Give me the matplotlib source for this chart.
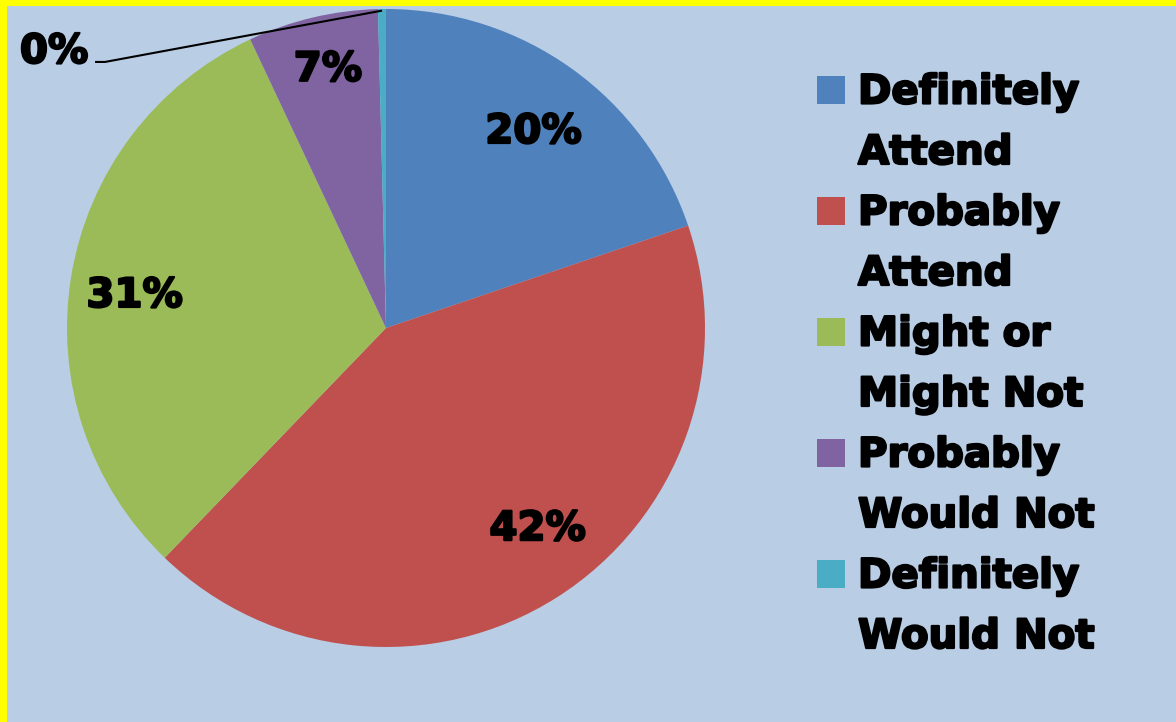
import numpy as np
import matplotlib
matplotlib.use("Agg")
import matplotlib.pyplot as plt
from matplotlib.patches import Rectangle
import matplotlib.patheffects as pe

# Survey responses (percent of respondents)
categories = ["Definitely Attend", "Probably Attend", "Might or Might Not",
              "Probably Would Not", "Definitely Would Not"]
legend_lines = [["Definitely", "Attend"], ["Probably", "Attend"],
                ["Might or", "Might Not"], ["Probably", "Would Not"],
                ["Definitely", "Would Not"]]
shares = [19.8, 42.4, 30.8, 6.6, 0.4]
colors = ["#4F81BD", "#C0504D", "#9BBB59", "#8064A2", "#4BACC6"]

BG = "#B9CDE5"
FONT = "DejaVu Sans"
FS = 29
HEAVY = [pe.withStroke(linewidth=1.6, foreground="black")]

W, H = 1176, 722
fig = plt.figure(figsize=(W / 100, H / 100), dpi=100, facecolor=BG)

# yellow frame along the top and left edges
fig.patches.append(Rectangle((0, 1 - 6 / H), 1, 6 / H, transform=fig.transFigure,
                             facecolor="#FFFF00", edgecolor="none", zorder=0))
fig.patches.append(Rectangle((0, 0), 7 / W, 1, transform=fig.transFigure,
                             facecolor="#FFFF00", edgecolor="none", zorder=0))

cx, cy, R = 386, 328, 319
ax = fig.add_axes([(cx - R) / W, (H - cy - R) / H, 2 * R / W, 2 * R / H])
ax.set_facecolor(BG)

wedges, texts, autotexts = ax.pie(
    shares, colors=colors, startangle=90, counterclock=False, radius=1,
    autopct="%.0f%%", pctdistance=0.79,
    wedgeprops=dict(linewidth=0),
    textprops=dict(fontsize=FS, fontweight="bold", family=FONT, color="black"),
)
ax.set_xlim(-1, 1)
ax.set_ylim(-1, 1)
ax.axis("off")

# percentage label anchors (centre x, baseline y) in pie units
label_pos = [(0.462, 0.580), (0.475, -0.665), (-0.788, 0.066),
             (-0.182, 0.775), (-0.934, 0.831)]
for t, (lx, ly) in zip(autotexts, label_pos):
    t.set_position((lx, ly))
    t.set_va("baseline")
    t.set_clip_on(False)
    t.set_path_effects(HEAVY)

# the tiny last slice gets its label outside with a leader line
small = wedges[-1]
mid = np.deg2rad((small.theta1 + small.theta2) / 2)
edge = (np.cos(mid) * 0.995, np.sin(mid) * 0.995)
elbow = (-0.881, 0.834)
tail = (-0.912, 0.834)
ax.plot([edge[0], elbow[0], tail[0]], [edge[1], elbow[1], tail[1]],
        color="black", lw=1.5, solid_capstyle="butt", clip_on=False, zorder=5)
autotexts[-1].set_ha("right")

# legend: colour squares with two-line labels
base0, step = 103.5, 60.5
for i, (lines, col) in enumerate(zip(legend_lines, colors)):
    b1 = base0 + step * 2 * i
    fig.patches.append(Rectangle((817 / W, (H - b1) / H), 28 / W, 28 / H,
                                 transform=fig.transFigure, facecolor=col,
                                 edgecolor="none"))
    for k, line in enumerate(lines):
        fig.text(858 / W, (H - (b1 + step * k)) / H, line, fontsize=FS,
                 fontweight="bold", family=FONT, ha="left", va="baseline",
                 color="black", path_effects=HEAVY)

fig.savefig("out.png", dpi=100, facecolor=BG)
